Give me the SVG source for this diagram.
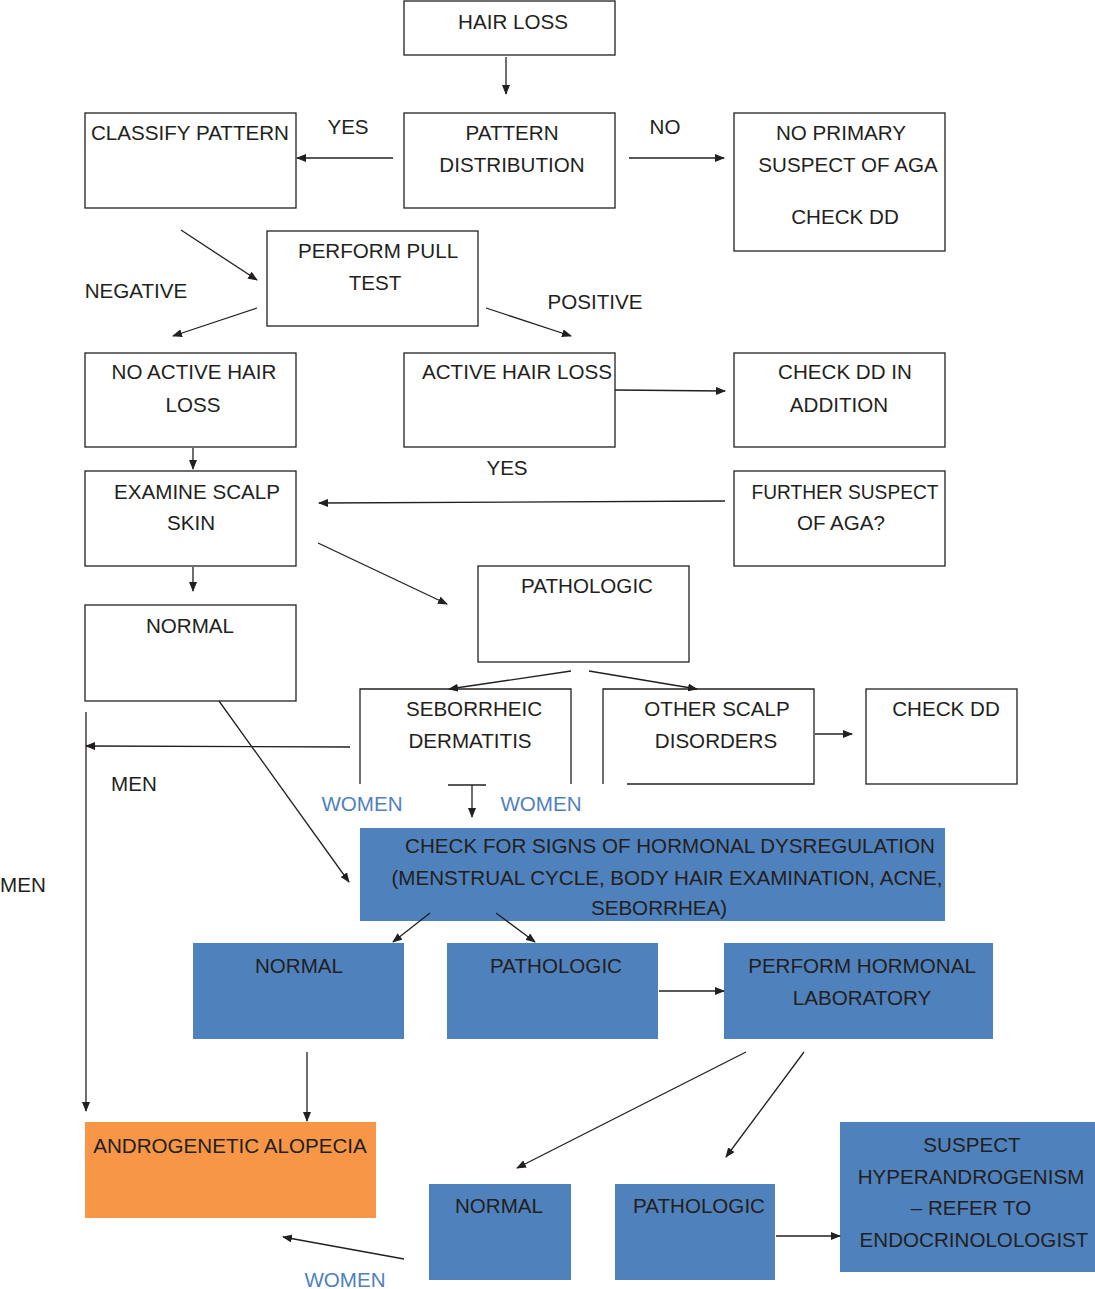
<svg xmlns="http://www.w3.org/2000/svg" width="1095" height="1289" viewBox="0 0 1095 1289">
<style>
text{font-family:"Liberation Sans",Arial,sans-serif;font-size:20.6px;fill:#231f20;text-anchor:middle}
.b{fill:#fff;stroke:#231f20;stroke-width:1.3}
.bl{fill:#4f81bd}
.or{fill:#f79646}
.w{fill:#4f81bd}
.c line,.c polyline{stroke:#231f20;stroke-width:1.3;fill:none}
.a{marker-end:url(#ah)}
</style>
<defs>
<marker id="ah" markerUnits="userSpaceOnUse" markerWidth="10" markerHeight="8" refX="9" refY="4" orient="auto">
<path d="M0,0 L10,4 L0,8 Z" fill="#231f20"/>
</marker>
</defs>
<rect width="1095" height="1289" fill="#fff"/>

<g id="hairloss"><rect class="b" x="404" y="1" width="211" height="54"/><text x="513" y="29">HAIR LOSS</text></g>
<g id="classify"><rect class="b" x="85" y="113" width="211" height="95"/><text x="190" y="140">CLASSIFY PATTERN</text></g>
<g id="pattern"><rect class="b" x="404" y="113" width="211" height="95"/><text x="512" y="140">PATTERN</text><text x="512" y="172">DISTRIBUTION</text></g>
<g id="noprimary"><rect class="b" x="734" y="113" width="211" height="138"/><text x="841" y="140">NO PRIMARY</text><text x="848" y="172">SUSPECT OF AGA</text><text x="845" y="224">CHECK DD</text></g>
<g id="pull"><rect class="b" x="267" y="231" width="211" height="95"/><text x="378" y="258">PERFORM PULL</text><text x="375" y="290">TEST</text></g>
<g id="noactive"><rect class="b" x="85" y="353" width="211" height="94"/><text x="194" y="379">NO ACTIVE HAIR</text><text x="193" y="412">LOSS</text></g>
<g id="active"><rect class="b" x="404" y="353" width="211" height="94"/><text x="517" y="379">ACTIVE HAIR LOSS</text></g>
<g id="checkddadd"><rect class="b" x="734" y="353" width="211" height="94"/><text x="845" y="379">CHECK DD IN</text><text x="839" y="412">ADDITION</text></g>
<g id="examine"><rect class="b" x="85" y="471" width="211" height="95"/><text x="197" y="499">EXAMINE SCALP</text><text x="191" y="530">SKIN</text></g>
<g id="further"><rect class="b" x="734" y="471" width="211" height="95"/><text x="845" y="499" textLength="187" lengthAdjust="spacingAndGlyphs">FURTHER SUSPECT</text><text x="841" y="530">OF AGA?</text></g>
<g id="pathologic1"><rect class="b" x="478" y="566" width="211" height="96"/><text x="587" y="593">PATHOLOGIC</text></g>
<g id="normal1"><rect class="b" x="85" y="605" width="211" height="96"/><text x="190" y="633">NORMAL</text></g>
<g id="seborrheic"><polyline points="360,784 360,689 571,689 571,784" fill="none" stroke="#231f20" stroke-width="1.3"/><text x="474" y="716">SEBORRHEIC</text><text x="470" y="748">DERMATITIS</text></g>
<g id="otherscalp"><polyline points="603,784 603,689 814,689 814,784 627,784" fill="none" stroke="#231f20" stroke-width="1.3"/><text x="717" y="716">OTHER SCALP</text><text x="716" y="748">DISORDERS</text></g>
<g id="checkdd2"><rect class="b" x="866" y="689" width="151" height="95"/><text x="946" y="716">CHECK DD</text></g>
<g id="hormonal"><rect class="bl" x="360" y="828" width="585" height="93"/><text x="670" y="853">CHECK FOR SIGNS OF HORMONAL DYSREGULATION</text><text x="667" y="885">(MENSTRUAL CYCLE, BODY HAIR EXAMINATION, ACNE,</text><text x="659" y="915">SEBORRHEA)</text></g>
<g id="normal2"><rect class="bl" x="193" y="943" width="211" height="96"/><text x="299" y="973">NORMAL</text></g>
<g id="pathologic2"><rect class="bl" x="447" y="943" width="211" height="96"/><text x="556" y="973">PATHOLOGIC</text></g>
<g id="lab"><rect class="bl" x="724" y="943" width="269" height="96"/><text x="862" y="973">PERFORM HORMONAL</text><text x="862" y="1005">LABORATORY</text></g>
<g id="aga"><rect class="or" x="85" y="1122" width="291" height="96"/><text x="230" y="1153">ANDROGENETIC ALOPECIA</text></g>
<g id="normal3"><rect class="bl" x="429" y="1184" width="142" height="96"/><text x="499" y="1213">NORMAL</text></g>
<g id="pathologic3"><rect class="bl" x="615" y="1184" width="160" height="96"/><text x="699" y="1213">PATHOLOGIC</text></g>
<g id="suspect"><rect class="bl" x="840" y="1122" width="255" height="150"/><text x="972" y="1152">SUSPECT</text><text x="971" y="1184">HYPERANDROGENISM</text><text x="971" y="1215">– REFER TO</text><text x="974" y="1247">ENDOCRINOLOLOGIST</text></g>

<g id="labels">
<text x="348" y="134">YES</text>
<text x="665" y="134">NO</text>
<text x="136" y="298">NEGATIVE</text>
<text x="595" y="309">POSITIVE</text>
<text x="507" y="475">YES</text>
<text x="134" y="791">MEN</text>
<text x="23" y="892">MEN</text>
<text class="w" x="362" y="811">WOMEN</text>
<text class="w" x="541" y="811">WOMEN</text>
<text class="w" x="345" y="1287">WOMEN</text>
</g>

<g id="connectors" class="c">
<line class="a" x1="506" y1="57" x2="506" y2="94"/>
<line class="a" x1="393" y1="158" x2="297" y2="158"/>
<line class="a" x1="629" y1="158" x2="724" y2="158"/>
<line class="a" x1="181" y1="230" x2="257" y2="280"/>
<line class="a" x1="257" y1="308" x2="173" y2="336"/>
<line class="a" x1="486" y1="308" x2="571" y2="336"/>
<line class="a" x1="615" y1="390" x2="725" y2="391"/>
<line class="a" x1="193" y1="448" x2="193" y2="469"/>
<line class="a" x1="725" y1="501" x2="319" y2="503"/>
<line class="a" x1="193" y1="567" x2="193" y2="591"/>
<line class="a" x1="318" y1="543" x2="447" y2="604"/>
<line class="a" x1="571" y1="671" x2="449" y2="689"/>
<line class="a" x1="589" y1="671" x2="697" y2="689"/>
<line class="a" x1="86" y1="712" x2="86" y2="1111"/>
<line class="a" x1="350" y1="747" x2="86" y2="746"/>
<line class="a" x1="219" y1="701" x2="349" y2="882"/>
<line class="a" x1="815" y1="734" x2="852" y2="734"/>
<line x1="448" y1="785" x2="486" y2="785"/>
<line class="a" x1="472" y1="785" x2="472" y2="817"/>
<line class="a" x1="430" y1="913" x2="393" y2="942"/>
<line class="a" x1="496" y1="913" x2="535" y2="942"/>
<line class="a" x1="659" y1="991" x2="724" y2="991"/>
<line class="a" x1="307" y1="1052" x2="307" y2="1121"/>
<line class="a" x1="746" y1="1052" x2="517" y2="1168"/>
<line class="a" x1="804" y1="1052" x2="726" y2="1157"/>
<line class="a" x1="776" y1="1236" x2="840" y2="1236"/>
<line class="a" x1="404" y1="1259" x2="283" y2="1237"/>
</g>
</svg>
